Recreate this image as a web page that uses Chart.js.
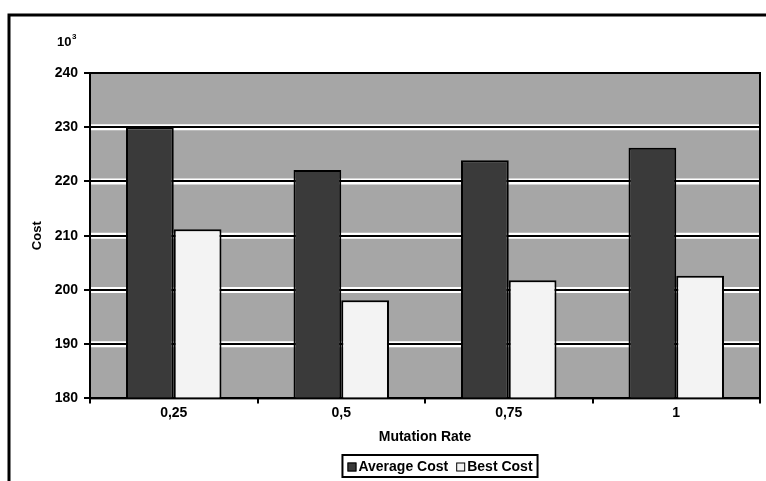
<!DOCTYPE html>
<html lang="en">
<head>
<meta charset="UTF-8" />
<title>Mutation Rate vs Cost</title>
<script src="https://cdn.jsdelivr.net/npm/chart.js"></script>
<style>
    body { margin: 0; background: #fff; }
    #grafico { display: block; }
</style>
</head>
<body>
<canvas id="grafico" width="766" height="481"></canvas>

<script>
    // valores (custo x 10^3)
    const categorias = ['0,25', '0,5', '0,75', '1'];
    const custoMedio = [230, 222.1, 223.9, 226.2];
    const melhorCusto = [211.2, 198.1, 201.8, 202.6];
    const yMin = 180, yMax = 240, yPasso = 10;

    const fonte = '"Liberation Sans", Arial, sans-serif';

    // fundo, moldura da pagina e "halo" branco das linhas de grade
    const fundoPlugin = {
        id: 'fundo',
        beforeDraw(chart) {
            const ctx = chart.ctx;
            const a = chart.chartArea;
            ctx.save();
            ctx.fillStyle = '#fff';
            ctx.fillRect(0, 0, chart.width, chart.height);

            ctx.strokeStyle = '#000';
            ctx.lineWidth = 3;
            ctx.beginPath();
            ctx.moveTo(9, chart.height);
            ctx.lineTo(9, 15);
            ctx.lineTo(chart.width, 15);
            ctx.stroke();

            ctx.fillStyle = '#a6a6a6';
            ctx.fillRect(a.left, a.top, a.right - a.left, a.bottom - a.top);

            const y = chart.scales.y;
            ctx.strokeStyle = '#fff';
            ctx.lineWidth = 6;
            for (let v = yMin + yPasso; v < yMax; v += yPasso) {
                const py = y.getPixelForValue(v);
                ctx.beginPath();
                ctx.moveTo(a.left, py);
                ctx.lineTo(a.right, py);
                ctx.stroke();
            }
            ctx.restore();
        },
        afterDatasetsDraw(chart) {
            const ctx = chart.ctx;
            const a = chart.chartArea;
            ctx.save();
            ctx.strokeStyle = '#000';
            ctx.lineWidth = 2;
            ctx.strokeRect(a.left, a.top, a.right - a.left, a.bottom - a.top);
            ctx.restore();
        },
        afterDraw(chart) {
            const ctx = chart.ctx;
            ctx.save();
            ctx.fillStyle = '#000';
            ctx.font = 'bold 13px ' + fonte;
            ctx.textBaseline = 'alphabetic';
            ctx.fillText('10', 57, 46);
            ctx.font = 'bold 8px ' + fonte;
            ctx.fillText('3', 72, 39);

            // legenda com moldura
            const ds = chart.data.datasets;
            ctx.font = 'bold 14px ' + fonte;
            const caixa = 9, gap = 2, entre = 8;
            let largura = 0;
            ds.forEach((d, i) => {
                largura += caixa + gap + ctx.measureText(d.label).width;
                if (i < ds.length - 1) largura += entre;
            });
            const cx = 440, topo = 455, alt = 22;
            let x = cx - largura / 2;
            ctx.lineWidth = 2;
            ctx.strokeStyle = '#000';
            ctx.strokeRect(x - 5, topo, largura + 10, alt);
            ctx.textBaseline = 'middle';
            const my = topo + alt / 2 + 1;
            ds.forEach((d) => {
                ctx.fillStyle = d.backgroundColor;
                ctx.fillRect(x, my - caixa / 2, caixa, caixa);
                ctx.lineWidth = 1;
                ctx.strokeRect(x + 0.5, my - caixa / 2 + 0.5, caixa - 1, caixa - 1);
                x += caixa + gap;
                ctx.fillStyle = '#000';
                ctx.fillText(d.label, x, my);
                x += ctx.measureText(d.label).width + entre;
            });
            ctx.restore();
        }
    };

    const dados = {
        labels: categorias,
        datasets: [{
            label: 'Average Cost',
            data: custoMedio,
            backgroundColor: '#3a3a3a',
            borderColor: '#000',
            borderWidth: 2
        },
        {
            label: 'Best Cost',
            data: melhorCusto,
            backgroundColor: '#f3f3f3',
            borderColor: '#000',
            borderWidth: 2
        }]
    };

    const config = {
        type: 'bar',
        data: dados,
        plugins: [fundoPlugin],
        options: {
            responsive: false,
            animation: false,
            devicePixelRatio: 1,
            layout: { padding: { top: 73, right: 6, left: 0, bottom: 31 } },
            datasets: {
                bar: { categoryPercentage: 0.57, barPercentage: 1 }
            },
            plugins: {
                legend: { display: false },
                tooltip: { enabled: false }
            },
            scales: {
                x: {
                    border: { display: false },
                    grid: { offset: true, drawOnChartArea: false, color: '#000', lineWidth: 2, tickLength: 5 },
                    ticks: { color: '#000', font: { family: fonte, size: 14, weight: 'bold' }, padding: 1 },
                    title: {
                        display: true, text: 'Mutation Rate', color: '#000',
                        font: { family: fonte, size: 14, weight: 'bold' },
                        padding: { top: 7, bottom: 4 }
                    }
                },
                y: {
                    min: yMin,
                    max: yMax,
                    border: { display: false },
                    grid: { color: '#000', lineWidth: 2, tickLength: 6 },
                    ticks: { stepSize: yPasso, color: '#000', font: { family: fonte, size: 14, weight: 'bold' }, padding: 6 },
                    title: {
                        display: true, text: 'Cost', color: '#000',
                        font: { family: fonte, size: 13, weight: 'bold' },
                        padding: { top: 30, bottom: 0 }
                    },
                    afterFit(scale) { scale.width = 90; }
                }
            }
        }
    };

    new Chart(document.getElementById('grafico'), config);
</script>
</body>
</html>
